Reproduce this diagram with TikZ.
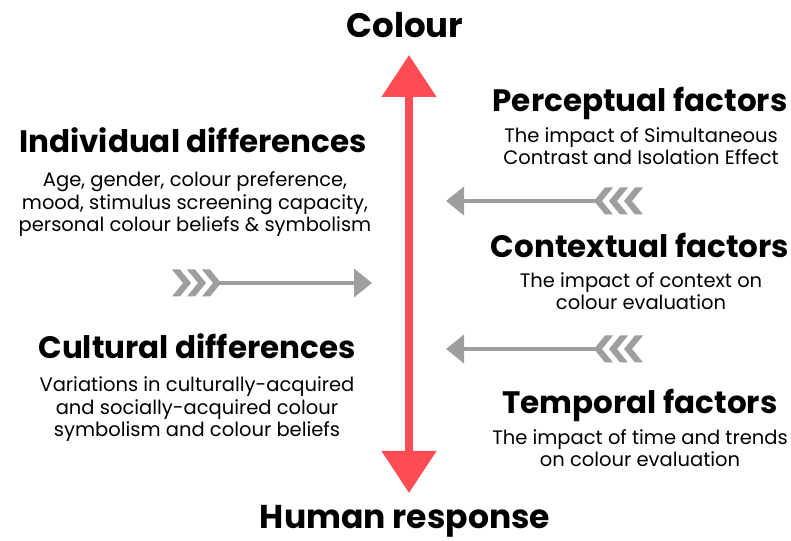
\documentclass[tikz,border=0pt]{standalone}
\usepackage{fontspec}
\setmainfont{Poppins}
\usetikzlibrary{arrows.meta,positioning}
\definecolor{axisred}{RGB}{255,76,84}
\definecolor{cuegray}{RGB}{158,158,158}
\begin{document}
\begin{tikzpicture}[x=1pt,y=1pt,
  head/.style={font=\bfseries\fontsize{31}{34}\selectfont,anchor=base,inner sep=0pt},
  body/.style={font=\fontsize{19.5}{22.5}\selectfont,align=center,anchor=base,inner sep=0pt},
  axis/.style={draw=axisred,line width=8pt,{Triangle[length=42pt,width=53pt]}-{Triangle[length=42pt,width=53pt]}},
  cue/.style={draw=cuegray,line width=4pt,-{Triangle[length=18pt,width=28pt]}}]
\useasboundingbox (0,0) rectangle (791,540);
% vertical axis
\node[head,font=\bfseries\fontsize{34}{38}\selectfont] (colour) at (405,502) {Colour};
\node[head,font=\bfseries\fontsize{33}{38}\selectfont] (human) at (405,12) {Human response};
\coordinate (axtop) at (409,485);
\coordinate (axbot) at (409,47);
\draw[axis] (axbot) -- (axtop);
% left side (body text: base = last line)
\node[head] (indiv) at (193,387) {Individual differences};
\node[body] (indivtxt) at (195,308) {Age, gender, colour preference,\\mood, stimulus screening capacity,\\personal colour beliefs \& symbolism};
\node[head] (cult) at (197,181) {Cultural differences};
\node[body] (culttxt) at (197,103) {Variations in culturally-acquired\\and socially-acquired colour\\symbolism and colour beliefs};
% right side
\node[head] (percep) at (640,428) {Perceptual factors};
\node[body] (perceptxt) at (641,375) {The impact of Simultaneous\\Contrast and Isolation Effect};
\node[head] (context) at (640,282) {Contextual factors};
\node[body] (contexttxt) at (641,230) {The impact of context on\\colour evaluation};
\node[head] (temp) at (640,126) {Temporal factors};
\node[body] (temptxt) at (640,73) {The impact of time and trends\\on colour evaluation};
% grey cue arrows
\coordinate (indivtail) at (215,257); \coordinate (indivtip) at (372,257);
\draw[cue] (indivtail) -- (indivtip);
\foreach \x in {172,187,202}
  \fill[cuegray] (\x,270.5) -- (\x+11,257) -- (\x,243.5) -- (\x+8,243.5) -- (\x+19,257) -- (\x+8,270.5) -- cycle;
\coordinate (perceptail) at (600,339); \coordinate (perceptip) at (446,339);
\draw[cue] (perceptail) -- (perceptip);
\coordinate (contexttail) at (600,191); \coordinate (contexttip) at (446,191);
\draw[cue] (contexttail) -- (contexttip);
\foreach \y in {339,191}
  \foreach \x in {643,628,613}
    \fill[cuegray] (\x,\y+13.5) -- (\x-11,\y) -- (\x,\y-13.5) -- (\x-8,\y-13.5) -- (\x-19,\y) -- (\x-8,\y+13.5) -- cycle;
\end{tikzpicture}
\end{document}
